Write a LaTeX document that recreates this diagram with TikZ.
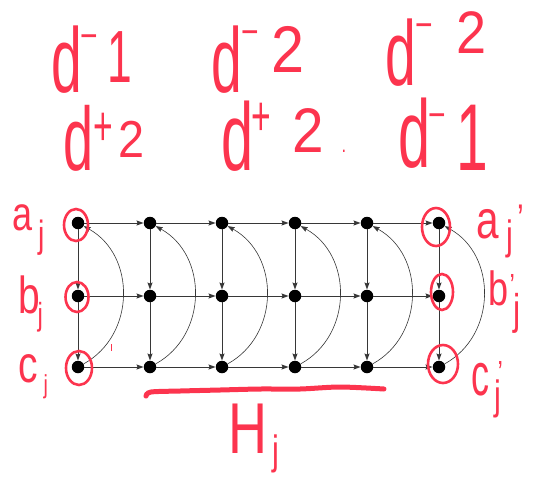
\documentclass[tikz,border=0pt]{standalone}
\usepackage{fontspec}
\setmainfont{Liberation Sans}
\newfontfamily\handd[FakeStretch=0.6]{Liberation Sans}
\newfontfamily\hand[FakeStretch=0.75]{Liberation Sans}
\newfontfamily\handn[FakeStretch=0.9]{Liberation Sans}
\usetikzlibrary{arrows.meta}
\definecolor{ink}{RGB}{252,52,78}
\definecolor{edgec}{RGB}{55,55,55}
% piece: x offset, raise, size, text
\newcommand\pc[4]{\rlap{\hspace{#1}\raisebox{#2}{\fontsize{#3}{#3}\selectfont #4}}}
\begin{document}
\begin{tikzpicture}[x=1pt,y=-1pt,
  dot/.style={circle,fill=black,inner sep=0pt,minimum size=12.5pt},
  edg/.style={draw=edgec,line width=0.9pt,-{Stealth[length=7pt,width=5pt,inset=1pt]}},
  bow/.style={draw=edgec,line width=0.6pt,-{Stealth[length=7pt,width=5pt,inset=1pt]}},
  hw/.style={text=ink,font=\hand,inner sep=0pt,anchor=base west},
  ring/.style={draw=ink,line width=2.6pt}]
\useasboundingbox (0,0) rectangle (533,483);
% graph nodes
\foreach \x [count=\i from 0] in {78,150,222,295,367,439} {
  \node[dot] (a\i) at (\x,223) {};
  \node[dot] (b\i) at (\x,296) {};
  \node[dot] (c\i) at (\x,367) {};
}
% horizontal edges
\foreach \i [evaluate=\i as \j using int(\i+1)] in {0,...,4} {
  \draw[edg] (a\i) -- (a\j);
  \draw[edg] (b\i) -- (b\j);
  \draw[edg] (c\i) -- (c\j);
}
% vertical edges and arcs
\foreach \i in {0,...,5} {
  \draw[edg] (a\i) -- (b\i);
  \draw[edg] (b\i) -- (c\i);
  \draw[bow] (c\i) .. controls +(58,-32) and +(58,32) .. (a\i);
}
% red rings
\draw[ring] (76,225) ellipse [x radius=12, y radius=16];
\draw[ring] (77,297) ellipse [x radius=11.5, y radius=15];
\draw[ring] (79,368) ellipse [x radius=13, y radius=17];
\draw[ring] (436,227) ellipse [x radius=14, y radius=19];
\draw[ring] (442,292) ellipse [x radius=11, y radius=18];
\draw[ring] (443,364) ellipse [x radius=15, y radius=19];
\draw[ink,line width=1pt] (111,344) -- (111,351);
% top annotations
\node[hw] (t1) at (51,92)  {\pc{0pt}{0pt}{92}{\handd d}\pc{29pt}{43pt}{40}{−}\pc{56pt}{10pt}{74}{\handd 1}\hspace{80pt}};
\node[hw] (t2) at (211,92) {\pc{0pt}{0pt}{92}{\handd d}\pc{30pt}{47pt}{40}{−}\pc{60pt}{20pt}{66}{\handn 2}\hspace{92pt}};
\node[hw] (t3) at (385,85) {\pc{0pt}{0pt}{92}{\handd d}\pc{30pt}{47pt}{40}{−}\pc{71pt}{32pt}{60}{\handn 2}\hspace{100pt}};
\node[hw] (t4) at (63,170) {\pc{0pt}{0pt}{90}{\handd d}\pc{30pt}{25pt}{56}{\handd +}\pc{55pt}{13pt}{52}{\handn 2}\hspace{90pt}};
\node[hw] (t5) at (221,170) {\pc{0pt}{0pt}{96}{\handd d}\pc{30pt}{35pt}{56}{\handd +}\pc{71pt}{18pt}{63}{\handn 2}\pc{120pt}{18pt}{22}{.}\hspace{125pt}};
\node[hw] (t6) at (398,167) {\pc{0pt}{0pt}{96}{\handd d}\pc{30pt}{39pt}{40}{−}\pc{58pt}{-3pt}{95}{\handd 1}\hspace{85pt}};
% side labels
\node[hw] (la) at (12,230) {\pc{0pt}{0pt}{48}{a}\pc{26pt}{-17pt}{38}{j}\hspace{35pt}};
\node[hw] (lb) at (18,313) {\pc{0pt}{0pt}{52}{b}\pc{19pt}{-12pt}{32}{j}\hspace{28pt}};
\node[hw] (lc) at (18,382) {\pc{0pt}{0pt}{52}{c}\pc{25pt}{-11pt}{26}{j}\hspace{33pt}};
\node[hw] (ra) at (476,238) {\pc{0pt}{0pt}{54}{a}\pc{41pt}{6pt}{40}{’}\pc{30pt}{-11pt}{41}{j}\hspace{50pt}};
\node[hw] (rb) at (488,305) {\pc{0pt}{0pt}{48}{b}\pc{21pt}{9pt}{32}{’}\pc{25pt}{-19pt}{43}{j}\hspace{35pt}};
\node[hw] (rc) at (471,395) {\pc{0pt}{0pt}{60}{\handd c}\pc{26pt}{12pt}{32}{’}\pc{23pt}{-14pt}{41}{j}\hspace{34pt}};
% underline and H_j
\draw[ink,line width=5pt,line cap=round] plot[smooth] coordinates {(146,396) (151,392) (180,391) (220,390) (260,389) (300,389) (340,387) (384,389)};
\node[hw] (h) at (228,453) {\pc{0pt}{0pt}{72}{H}\pc{44pt}{-11pt}{41}{j}\hspace{56pt}};
\end{tikzpicture}
\end{document}
